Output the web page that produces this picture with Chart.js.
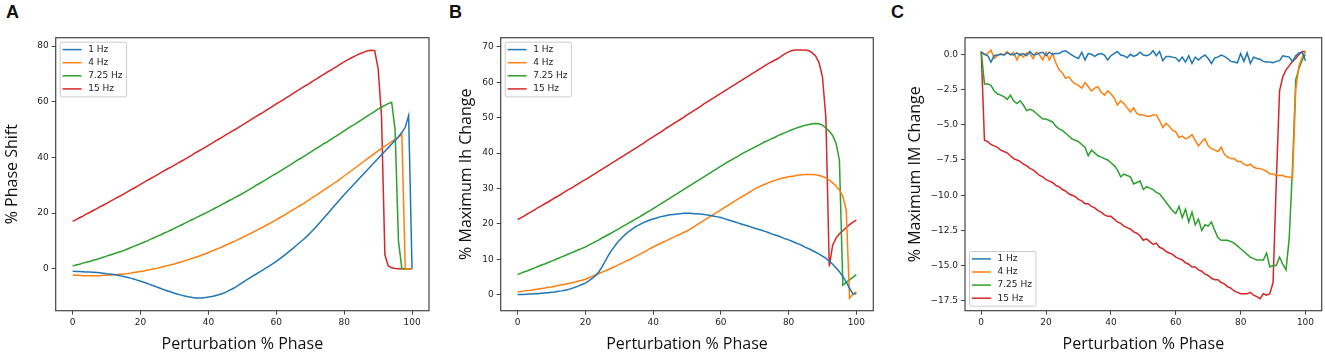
<!DOCTYPE html>
<html>
<head>
<meta charset="utf-8">
<script src="https://cdn.jsdelivr.net/npm/chart.js@4.4.1/dist/chart.umd.min.js"></script>
<style>
  body { margin: 0; background: #fff; }
  #wrap { position: relative; width: 1325px; height: 358px; overflow: hidden; }
  canvas { position: absolute; top: 0; }
  .tag { position: absolute; top: 2px; font: bold 18px "Liberation Sans", Arial, sans-serif; color: #111; }
</style>
</head>
<body>
<div id="wrap">
  <div class="tag" style="left:6px">A</div>
  <div class="tag" style="left:449px">B</div>
  <div class="tag" style="left:891px">C</div>
  <canvas id="panel-a" width="440" height="358" style="left:0px"></canvas>
  <canvas id="panel-b" width="440" height="358" style="left:440px"></canvas>
  <canvas id="panel-c" width="445" height="358" style="left:880px"></canvas>
</div>
<script>
// x axis: perturbation % phase
const phase = Array.from({ length: 101 }, (_, i) => i);
const seriesLabels = ["1 Hz", "4 Hz", "7.25 Hz", "15 Hz"];
const seriesColors = ["#1f77b4", "#ff7f0e", "#2ca02c", "#d62728"];
const xTicks = [0, 20, 40, 60, 80, 100];

// A: % Phase Shift
const shift1Hz = [
  -0.9, -1.0, -1.0, -1.1, -1.2, -1.2, -1.3, -1.4, -1.5, -1.6, -1.8,
  -1.9, -2.1, -2.3, -2.5, -2.8, -3.1, -3.4, -3.7, -4.1, -4.5,
  -4.9, -5.3, -5.8, -6.2, -6.7, -7.1, -7.6, -8.0, -8.4, -8.8,
  -9.2, -9.5, -9.8, -10.1, -10.3, -10.5, -10.5, -10.5, -10.4, -10.2,
  -10.0, -9.7, -9.4, -9.0, -8.5, -7.9, -7.3, -6.6, -5.8, -5.0,
  -4.2, -3.5, -2.7, -2.0, -1.2, -0.5, 0.3, 1.0, 1.8, 2.6,
  3.5, 4.4, 5.4, 6.4, 7.4, 8.4, 9.5, 10.5, 11.6, 12.8,
  14.1, 15.4, 16.8, 18.2, 19.6, 21.0, 22.4, 23.8, 25.2, 26.6,
  27.9, 29.2, 30.5, 31.8, 33.1, 34.4, 35.7, 37.0, 38.3, 39.6,
  40.9, 42.2, 43.5, 44.8, 46.1, 47.4, 48.9, 50.8, 55.0, 0.0,
];
const shift4Hz = [
  -2.3, -2.4, -2.4, -2.5, -2.5, -2.5, -2.5, -2.5, -2.5, -2.4, -2.4,
  -2.3, -2.2, -2.1, -2.0, -1.9, -1.8, -1.6, -1.4, -1.2, -1.0,
  -0.8, -0.5, -0.3, 0.0, 0.2, 0.5, 0.8, 1.1, 1.4, 1.7,
  2.1, 2.4, 2.8, 3.2, 3.6, 4.0, 4.4, 4.9, 5.3, 5.8,
  6.3, 6.8, 7.3, 7.8, 8.4, 8.9, 9.5, 10.0, 10.6, 11.2,
  11.8, 12.4, 13.0, 13.7, 14.3, 14.9, 15.6, 16.2, 16.9, 17.6,
  18.3, 19.0, 19.7, 20.5, 21.2, 21.9, 22.7, 23.4, 24.2, 25.0,
  25.8, 26.6, 27.4, 28.2, 29.0, 29.8, 30.7, 31.5, 32.4, 33.3,
  34.2, 35.1, 36.0, 36.9, 37.8, 38.7, 39.6, 40.5, 41.4, 42.3,
  43.2, 44.0, 44.8, 45.7, 46.5, 47.3, 48.2, 0.0, 0.0, 0.0,
];
const shift725Hz = [
  1.0, 1.3, 1.6, 2.0, 2.3, 2.6, 3.0, 3.3, 3.7, 4.1, 4.5,
  4.9, 5.3, 5.7, 6.1, 6.5, 7.0, 7.5, 8.0, 8.5, 9.0,
  9.5, 10.0, 10.6, 11.1, 11.7, 12.2, 12.8, 13.3, 13.9, 14.5,
  15.1, 15.7, 16.3, 16.9, 17.5, 18.1, 18.7, 19.3, 19.9, 20.5,
  21.1, 21.8, 22.4, 23.1, 23.7, 24.4, 25.0, 25.7, 26.3, 27.0,
  27.7, 28.4, 29.1, 29.9, 30.6, 31.3, 32.0, 32.8, 33.5, 34.2,
  35.0, 35.7, 36.5, 37.2, 38.0, 38.8, 39.5, 40.3, 41.0, 41.8,
  42.6, 43.3, 44.1, 44.9, 45.6, 46.4, 47.2, 47.9, 48.7, 49.5,
  50.3, 51.1, 51.8, 52.6, 53.4, 54.2, 55.0, 55.7, 56.5, 57.3,
  58.0, 58.7, 59.3, 59.8, 50.0, 10.0, 0.0, 0.0, 0.0, 0.0,
];
const shift15Hz = [
  17.0, 17.6, 18.3, 18.9, 19.6, 20.2, 20.9, 21.5, 22.2, 22.8, 23.5,
  24.2, 24.8, 25.5, 26.1, 26.8, 27.5, 28.2, 28.9, 29.6, 30.3,
  31.0, 31.7, 32.4, 33.1, 33.8, 34.5, 35.2, 35.9, 36.5, 37.2,
  37.9, 38.6, 39.3, 40.0, 40.7, 41.5, 42.2, 42.9, 43.6, 44.3,
  45.0, 45.8, 46.5, 47.2, 48.0, 48.7, 49.4, 50.1, 50.9, 51.6,
  52.4, 53.1, 53.9, 54.6, 55.4, 56.1, 56.9, 57.6, 58.4, 59.2,
  59.9, 60.7, 61.5, 62.2, 63.0, 63.8, 64.5, 65.3, 66.0, 66.8,
  67.6, 68.3, 69.1, 69.8, 70.6, 71.3, 72.1, 72.8, 73.6, 74.3,
  75.0, 75.7, 76.3, 76.9, 77.4, 77.9, 78.3, 78.5, 78.3, 72.0,
  55.0, 5.0, 1.0, 0.3, 0.1, 0.0, 0.0, 0.0, 0.0, 0.0,
];

// B: % Maximum Ih Change
const ih1Hz = [
  0.1, 0.1, 0.1, 0.2, 0.2, 0.3, 0.3, 0.4, 0.5, 0.6, 0.7,
  0.8, 1.0, 1.1, 1.3, 1.5, 1.8, 2.1, 2.5, 2.9, 3.3,
  3.9, 4.6, 5.4, 6.5, 8.0, 9.8, 11.5, 12.9, 14.2, 15.3,
  16.3, 17.2, 18.0, 18.7, 19.3, 19.8, 20.3, 20.7, 21.1, 21.4,
  21.7, 22.0, 22.2, 22.4, 22.6, 22.7, 22.8, 22.9, 23.0, 23.0,
  23.0, 22.9, 22.9, 22.8, 22.7, 22.5, 22.4, 22.2, 22.0, 21.8,
  21.5, 21.2, 20.9, 20.6, 20.3, 20.0, 19.7, 19.4, 19.1, 18.8,
  18.5, 18.2, 17.9, 17.6, 17.2, 16.9, 16.6, 16.2, 15.8, 15.5,
  15.1, 14.7, 14.3, 13.9, 13.4, 13.0, 12.5, 12.0, 11.5, 10.9,
  10.3, 9.5, 8.6, 7.6, 6.5, 5.2, 3.6, 1.8, 0.3, 0.2,
];
const ih4Hz = [
  0.85, 0.95, 1.1, 1.2, 1.3, 1.5, 1.6, 1.8, 1.9, 2.1, 2.2,
  2.4, 2.6, 2.8, 3.0, 3.2, 3.4, 3.6, 3.9, 4.1, 4.4,
  4.8, 5.2, 5.6, 6.0, 6.4, 6.8, 7.2, 7.7, 8.1, 8.6,
  9.0, 9.5, 9.9, 10.4, 10.9, 11.4, 11.9, 12.4, 13.0, 13.5,
  14.0, 14.4, 14.9, 15.3, 15.8, 16.2, 16.7, 17.1, 17.6, 18.0,
  18.6, 19.2, 19.8, 20.4, 21.0, 21.6, 22.2, 22.8, 23.4, 24.0,
  24.6, 25.2, 25.8, 26.4, 27.0, 27.6, 28.1, 28.7, 29.3, 29.9,
  30.4, 30.8, 31.2, 31.6, 32.0, 32.3, 32.6, 32.9, 33.1, 33.3,
  33.5, 33.6, 33.8, 33.9, 34.0, 34.0, 34.0, 33.9, 33.7, 33.4,
  33.0, 32.4, 31.6, 30.7, 29.6, 27.8, 24.0, -1.0, 0.2, 0.8,
];
const ih725Hz = [
  5.7, 6.1, 6.5, 6.8, 7.2, 7.6, 8.0, 8.4, 8.7, 9.1, 9.5,
  9.9, 10.3, 10.7, 11.1, 11.5, 11.9, 12.3, 12.7, 13.1, 13.5,
  14.0, 14.5, 15.0, 15.5, 16.1, 16.6, 17.1, 17.6, 18.2, 18.7,
  19.3, 19.8, 20.4, 20.9, 21.5, 22.0, 22.6, 23.2, 23.7, 24.3,
  24.9, 25.5, 26.1, 26.7, 27.3, 27.9, 28.5, 29.1, 29.7, 30.3,
  30.9, 31.5, 32.1, 32.7, 33.3, 33.9, 34.5, 35.1, 35.7, 36.3,
  36.9, 37.5, 38.0, 38.6, 39.1, 39.7, 40.2, 40.7, 41.2, 41.7,
  42.2, 42.7, 43.2, 43.6, 44.1, 44.5, 45.0, 45.4, 45.8, 46.2,
  46.6, 47.0, 47.3, 47.6, 47.9, 48.1, 48.3, 48.4, 48.3, 47.9,
  47.1, 46.2, 45.0, 42.8, 38.0, 2.7, 3.5, 4.2, 5.0, 5.7,
];
const ih15Hz = [
  21.2, 21.8, 22.3, 22.9, 23.4, 24.0, 24.6, 25.1, 25.7, 26.2, 26.8,
  27.4, 27.9, 28.5, 29.1, 29.7, 30.2, 30.8, 31.4, 32.0, 32.5,
  33.1, 33.7, 34.3, 34.9, 35.5, 36.1, 36.7, 37.3, 37.9, 38.5,
  39.1, 39.7, 40.3, 40.9, 41.5, 42.1, 42.7, 43.4, 44.0, 44.6,
  45.2, 45.8, 46.4, 47.1, 47.7, 48.3, 48.9, 49.5, 50.1, 50.8,
  51.4, 52.0, 52.6, 53.2, 53.9, 54.5, 55.1, 55.7, 56.3, 56.9,
  57.5, 58.1, 58.7, 59.3, 59.9, 60.5, 61.1, 61.7, 62.3, 62.9,
  63.5, 64.1, 64.7, 65.3, 65.8, 66.3, 66.8, 67.5, 68.1, 68.6,
  69.0, 69.1, 69.1, 69.1, 69.1, 68.9, 68.3, 67.4, 65.5, 61.5,
  50.0, 8.0, 14.0, 16.0, 17.2, 18.1, 19.0, 19.8, 20.5, 21.1,
];

// C: % Maximum IM Change
const im1Hz = [
  0.15, 0.0, -0.1, -0.55, -0.1, -0.05, 0.0, -0.05, 0.1, 0.0, -0.05,
  0.1, -0.05, 0.05, -0.1, 0.2, -0.05, 0.0, 0.1, 0.15, -0.1,
  0.15, 0.0, 0.05, 0.05, 0.2, 0.25, 0.1, -0.05, -0.2, -0.3,
  0.15, -0.4, 0.05, 0.0, -0.15, 0.0, 0.05, -0.05, -0.4, -0.1,
  0.05, 0.2, -0.05, -0.1, -0.25, 0.0, -0.15, -0.05, 0.15, -0.05,
  -0.1, 0.0, 0.25, -0.1, 0.2, -0.45, -0.15, -0.15, -0.2, -0.25,
  -0.5, -0.2, -0.55, -0.1, -0.65, -0.2, -0.4, -0.2, -0.05, -0.3,
  -0.65, -0.25, -0.2, -0.05, -0.15, -0.3, -0.5, -0.55, -0.6, 0.05,
  -0.5, 0.1, -0.65, -0.2, -0.3, -0.35, -0.5, -0.55, -0.55, -0.6,
  -0.5, -0.45, -0.1, -0.15, -0.2, -0.5, -0.1, 0.1, 0.15, -0.45,
];
const im4Hz = [
  0.2, 0.0, 0.05, 0.3, -0.3, -0.1, 0.05, -0.05, 0.2, -0.05, 0.15,
  -0.4, 0.05, -0.2, 0.1, 0.05, -0.3, 0.15, -0.05, -0.4, 0.15,
  -0.4, 0.05, -0.6, -1.1, -1.3, -1.7, -1.6, -1.9, -2.1, -2.2,
  -2.4, -2.0, -2.3, -2.6, -2.4, -2.3, -2.7, -2.9, -2.6, -2.8,
  -3.1, -3.6, -3.3, -3.5, -3.8, -4.1, -3.8, -4.2, -4.3, -4.3,
  -4.4, -4.4, -4.3, -4.3, -4.7, -5.2, -4.9, -5.1, -5.4, -5.5,
  -5.9, -5.8, -6.0, -5.9, -5.7, -6.1, -6.5, -6.2, -6.0, -6.5,
  -6.7, -6.8, -6.9, -6.6, -7.1, -7.3, -7.4, -7.4, -7.6, -7.6,
  -7.8, -7.9, -7.8, -8.0, -8.1, -8.1, -8.2, -8.3, -8.5, -8.5,
  -8.6, -8.6, -8.6, -8.7, -8.7, -8.8, -2.5, -0.8, -0.2, 0.2,
];
const im725Hz = [
  0.2, -2.1, -2.1, -2.2, -2.6, -2.8, -2.9, -3.0, -3.2, -2.9, -3.3,
  -3.5, -3.3, -3.6, -4.0, -3.9, -4.0, -4.2, -4.4, -4.6, -4.6,
  -4.7, -4.8, -5.1, -5.3, -5.4, -5.6, -5.8, -6.0, -6.1, -6.2,
  -6.4, -6.6, -7.2, -6.8, -7.0, -7.2, -7.3, -7.4, -7.5, -7.7,
  -7.9, -8.2, -8.7, -8.5, -8.6, -8.7, -9.2, -9.1, -9.0, -9.6,
  -9.4, -9.5, -9.6, -9.8, -9.9, -10.2, -10.5, -10.8, -11.1, -11.3,
  -10.8, -11.6, -11.0, -11.9, -11.2, -12.1, -11.7, -12.5, -12.1, -12.2,
  -11.9, -12.5, -13.0, -13.2, -13.2, -13.2, -13.3, -13.4, -13.6, -13.8,
  -14.0, -14.2, -14.4, -14.5, -14.6, -14.6, -14.6, -14.1, -15.1, -15.0,
  -15.0, -14.4, -14.9, -15.3, -13.0, -8.0, -1.8, -1.0, -0.4, 0.0,
];
const im15Hz = [
  0.2, -6.1, -6.2, -6.4, -6.5, -6.6, -6.8, -6.9, -7.0, -7.2, -7.4,
  -7.5, -7.6, -7.8, -7.9, -8.1, -8.2, -8.4, -8.6, -8.7, -8.9,
  -9.0, -9.1, -9.3, -9.4, -9.6, -9.7, -9.9, -10.0, -10.1, -10.3,
  -10.4, -10.6, -10.6, -10.8, -10.9, -11.1, -11.2, -11.4, -11.5, -11.5,
  -11.7, -11.9, -12.0, -12.2, -12.3, -12.4, -12.6, -12.7, -12.9, -13.2,
  -13.1, -13.3, -13.5, -13.4, -13.7, -13.8, -14.0, -14.1, -14.2, -14.4,
  -14.5, -14.6, -14.8, -14.9, -15.1, -15.1, -15.3, -15.4, -15.6, -15.7,
  -15.9, -16.0, -16.0, -16.2, -16.3, -16.5, -16.6, -16.8, -16.9, -17.0,
  -17.0, -17.0, -16.9, -17.1, -17.2, -17.35, -17.0, -17.1, -17.0, -16.2,
  -9.0, -2.6, -1.6, -1.1, -0.8, -0.5, -0.3, 0.0, 0.2, 0.2,
];

// 畫 frame + legend (matplotlib look)
const frameLegend = {
  id: "frameLegend",
  afterDatasetsDraw(chart, args, opts) {
    const { ctx, chartArea } = chart;
    const sets = chart.data.datasets;
    ctx.save();
    // axes box
    ctx.strokeStyle = "#444";
    ctx.lineWidth = 1.2;
    ctx.strokeRect(chartArea.left, chartArea.top, chartArea.right - chartArea.left, chartArea.bottom - chartArea.top);
    // legend box
    ctx.font = "9px 'DejaVu Sans'";
    const textW = Math.max(...sets.map((d) => ctx.measureText(d.label).width));
    const rowH = 13.1;
    const w = 28 + textW + 4;
    const h = rowH * (sets.length - 1) + 15.4;
    const x = chartArea.left + 4.5;
    const y = opts.corner === "bottom" ? chartArea.bottom - 4.5 - h : chartArea.top + 4.5;
    ctx.fillStyle = "rgba(255,255,255,0.85)";
    ctx.strokeStyle = "#cccccc";
    ctx.lineWidth = 1;
    ctx.beginPath();
    ctx.roundRect(x, y, w, h, 2);
    ctx.fill();
    ctx.stroke();
    sets.forEach((d, i) => {
      const cy = y + 7.4 + rowH * i;
      ctx.strokeStyle = d.borderColor;
      ctx.lineWidth = 1.5;
      ctx.beginPath();
      ctx.moveTo(x + 2.4, cy);
      ctx.lineTo(x + 21.4, cy);
      ctx.stroke();
      ctx.fillStyle = "#222";
      ctx.textBaseline = "middle";
      ctx.fillText(d.label, x + 28, cy);
    });
    ctx.restore();
  },
};

const fmtMinus = (v, digits) => v.toFixed(digits).replace("-", "\u2212");

const makePanel = (id, cfg) => {
  const datasets = cfg.series.map((vals, i) => ({
    label: seriesLabels[i],
    data: phase.map((p, j) => ({ x: p, y: vals[j] })),
    borderColor: seriesColors[i],
    backgroundColor: seriesColors[i],
    borderWidth: 1.5,
    pointRadius: 0,
    tension: 0,
  }));
  new Chart(document.getElementById(id), {
    type: "line",
    data: { datasets },
    plugins: [frameLegend],
    options: {
      responsive: false,
      animation: false,
      devicePixelRatio: 1,
      layout: { padding: { top: 37.7, right: cfg.padRight, left: 0, bottom: 0 } },
      plugins: {
        legend: { display: false },
        tooltip: { enabled: false },
        frameLegend: { corner: cfg.legendCorner },
      },
      scales: {
        x: {
          type: "linear",
          min: -5,
          max: 105,
          afterFit: (scale) => { scale.height = 47.3; },
          afterBuildTicks: (scale) => { scale.ticks = xTicks.map((v) => ({ value: v })); },
          border: { display: false },
          grid: { drawOnChartArea: false, drawTicks: true, tickLength: 4, color: "#444", lineWidth: 1 },
          ticks: { color: "#222", padding: 3, maxRotation: 0, font: { family: "DejaVu Sans", size: 9 } },
          title: {
            display: true,
            text: "Perturbation % Phase",
            color: "#111",
            font: { family: "Open Sans", size: 16 },
            padding: { top: 0, bottom: 4 },
          },
        },
        y: {
          type: "linear",
          min: cfg.yMin,
          max: cfg.yMax,
          afterFit: (scale) => { scale.width = cfg.yWidth; },
          afterBuildTicks: (scale) => { scale.ticks = cfg.yTicks.map((v) => ({ value: v })); },
          border: { display: false },
          grid: { drawOnChartArea: false, drawTicks: true, tickLength: 4, color: "#444", lineWidth: 1 },
          ticks: {
            color: "#222",
            padding: 3,
            font: { family: "DejaVu Sans", size: 9 },
            callback: (v) => fmtMinus(v, cfg.yDigits),
          },
          title: {
            display: true,
            text: cfg.yTitle,
            color: "#111",
            font: { family: "Open Sans", size: 16 },
            padding: { top: cfg.yTitlePad, bottom: 0 },
          },
        },
      },
    },
  });
};

makePanel("panel-a", {
  series: [shift1Hz, shift4Hz, shift725Hz, shift15Hz],
  yTitle: "% Phase Shift",
  yTicks: [0, 20, 40, 60, 80],
  yMin: -15.1,
  yMax: 83,
  yDigits: 0,
  yWidth: 55.7,
  yTitlePad: 2.5,
  padRight: 11,
  legendCorner: "top",
});

makePanel("panel-b", {
  series: [ih1Hz, ih4Hz, ih725Hz, ih15Hz],
  yTitle: "% Maximum Ih Change",
  yTicks: [0, 10, 20, 30, 40, 50, 60, 70],
  yMin: -4.5,
  yMax: 72.6,
  yDigits: 0,
  yWidth: 60.7,
  yTitlePad: 16.7,
  padRight: 6.7,
  legendCorner: "top",
});

makePanel("panel-c", {
  series: [im1Hz, im4Hz, im725Hz, im15Hz],
  yTitle: "% Maximum IM Change",
  yTicks: [0, -2.5, -5, -7.5, -10, -12.5, -15, -17.5],
  yMin: -18.2,
  yMax: 1.18,
  yDigits: 1,
  yWidth: 85,
  yTitlePad: 26,
  padRight: 3.3,
  legendCorner: "bottom",
});
</script>
</body>
</html>
